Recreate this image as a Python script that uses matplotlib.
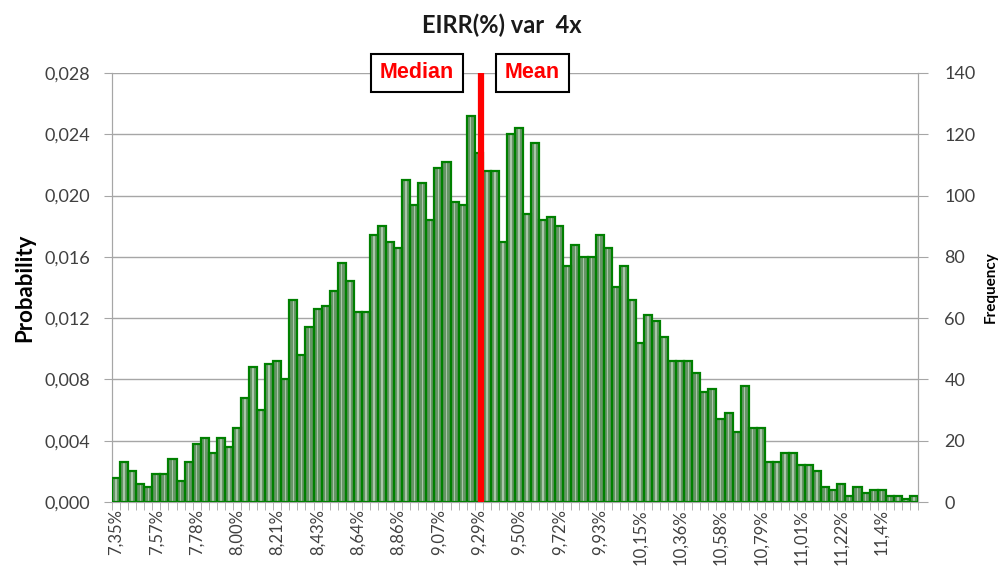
import numpy as np
import matplotlib
matplotlib.use("Agg")
import matplotlib.pyplot as plt

plt.rcParams['font.family'] = ['Lato', 'DejaVu Sans']

# histogram of EIRR (%) - 100 bins, 5000 runs
bin_start = 7.35
bin_step = 0.04305
freq = [8, 13, 10, 6, 5, 9, 9, 14, 7, 13, 19, 21, 16, 21, 18, 24, 34,
        44, 30, 45, 46, 40, 66, 48, 57, 63, 64, 69, 78, 72, 62, 62, 87, 90,
        85, 83, 105, 97, 104, 92, 109, 111, 98, 97, 126, 114, 108, 108, 85, 120,
        122, 94, 117, 92, 93, 90, 77, 84, 80, 80, 87, 83, 70, 77, 66, 52, 61,
        59, 54, 46, 46, 46, 42, 36, 37, 27, 29, 23, 38, 24, 24, 13, 13, 16, 16,
        12, 12, 10, 5, 4, 6, 2, 5, 3, 4, 4, 2, 2, 1, 2]
tick_labels = ["7,35%", "7,57%", "7,78%", "8,00%", "8,21%", "8,43%", "8,64%",
               "8,86%", "9,07%", "9,29%", "9,50%", "9,72%", "9,93%", "10,15%",
               "10,36%", "10,58%", "10,79%", "11,01%", "11,22%", "11,4%"]
prob_ticks = [0.000, 0.004, 0.008, 0.012, 0.016, 0.020, 0.024, 0.028]
freq_ticks = [0, 20, 40, 60, 80, 100, 120, 140]
median_mean = 9.30

freq = np.array(freq)
idx = np.arange(len(freq))
line_pos = (median_mean - bin_start) / bin_step

fig = plt.figure(figsize=(10.04, 5.71), dpi=100)
ax = fig.add_axes([0.1116, 0.1208, 0.8027, 0.7514])
ax2 = ax.twinx()

grey = '#a6a6a6'
txt = '#404040'

# left axis: probability
ax.set_ylim(0, prob_ticks[-1])
ax.set_yticks(prob_ticks)
ax.set_yticklabels([f"{v:.3f}".replace('.', ',') for v in prob_ticks])
ax.grid(axis='y', color=grey, lw=1)
ax.set_axisbelow(True)
ax.set_ylabel("Probability", fontsize=16, fontweight='bold', labelpad=6)

# right axis: frequency, bars
ax2.bar(idx, freq, width=1.0, color='#679567', lw=0, zorder=2)
ax2.bar(idx, freq, width=0.18, color='#a9c6a9', lw=0, zorder=3)
ax2.bar(idx, freq, width=1.0, facecolor='none', edgecolor='#008000', lw=1.6, zorder=4)
ax2.set_ylim(0, freq_ticks[-1])
ax2.set_yticks(freq_ticks)
ax2.set_ylabel("Frequency", fontsize=11, fontweight='bold', labelpad=6)

ax.set_xlim(-0.5, len(freq) - 0.5)
ax.set_xticks(idx[::5])
ax.set_xticklabels(tick_labels, rotation=90)
ax.set_xticks(np.arange(len(freq) + 1) - 0.5, minor=True)
ax.tick_params(axis='x', which='major', length=0, pad=5, labelsize=12, labelcolor=txt)
ax.tick_params(axis='x', which='minor', length=6, color=grey)
ax.tick_params(axis='y', length=6, color=grey, labelsize=13, labelcolor=txt, pad=10)
ax2.tick_params(axis='y', length=7, color=grey, labelsize=13, labelcolor=txt, pad=12)

for a in (ax, ax2):
    a.spines['top'].set_visible(False)
    for s in ('left', 'right', 'bottom'):
        a.spines[s].set_color(grey)

# median / mean line
ax2.axvline(line_pos, color='red', lw=4.5, zorder=5)
box = dict(boxstyle='square,pad=0.4', fc='white', ec='black', lw=1.5)
ax2.annotate("Median", xy=(line_pos, 1), xycoords=('data', 'axes fraction'),
             xytext=(-46, 0), textcoords='offset points', ha='center', va='center',
             fontsize=15.5, fontweight='bold', color='red', family='Liberation Sans',
             bbox=box, zorder=6)
ax2.annotate("Mean", xy=(line_pos, 1), xycoords=('data', 'axes fraction'),
             xytext=(37, 0), textcoords='offset points', ha='center', va='center',
             fontsize=15.5, fontweight='bold', color='red', family='Liberation Sans',
             bbox=box, zorder=6)

fig.text(0.50, 0.956, "EIRR(%) var  4x", ha='center', va='center',
         fontsize=17, fontweight='bold', color='#1a1a1a')

fig.savefig("out.png", dpi=100)
